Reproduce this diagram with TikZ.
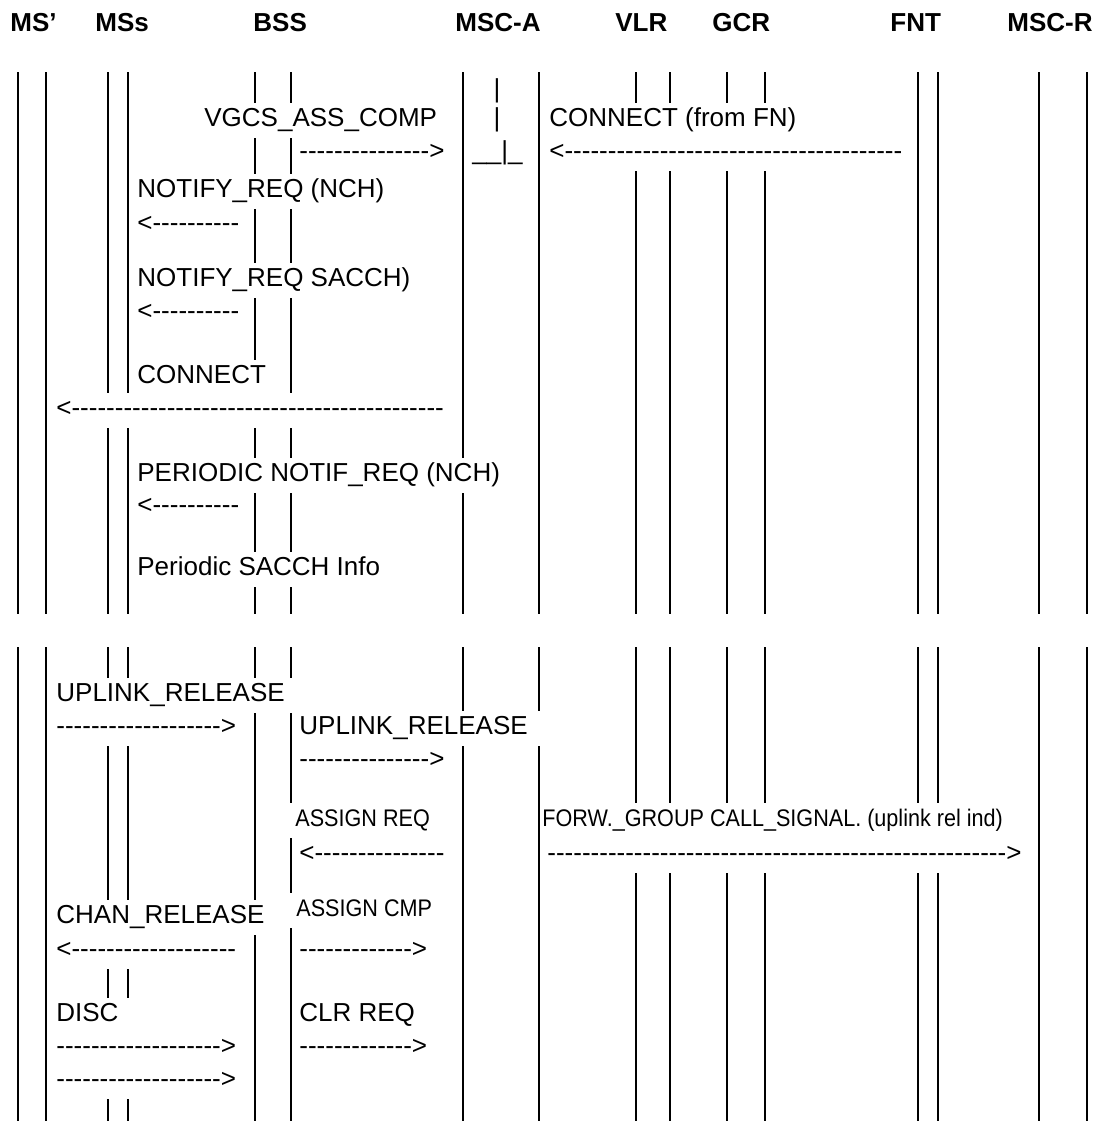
\documentclass[tikz,border=0pt]{standalone}
\usepackage{fontspec}
\setmainfont{Liberation Sans}
\newfontfamily\narrowfont[FakeStretch=0.9]{Liberation Sans}
\usepackage{tikz}

% a row of hyphens for the text arrows
\newcommand{\dashes}[1]{\foreach \d in {1,...,#1}{-}}

\begin{document}
\begin{tikzpicture}[x=0.5pt, y=-0.5pt,
    lifeline/.style={line width=1.2pt},
    head/.style={anchor=west, inner sep=0pt, font=\fontsize{13}{15}\selectfont\bfseries},
    msg/.style={anchor=west, fill=white, inner xsep=0.5pt, inner ysep=0pt,
        minimum height=17.5pt, text height=9.4pt, text depth=2.6pt,
        font=\fontsize{13}{15}\selectfont},
    small/.style={msg, text height=8.6pt, text depth=2.4pt,
        font=\narrowfont\fontsize{12}{14}\selectfont}
]
\useasboundingbox (0,0) rectangle (1097,1121);

% Column heads
\node[head] (hmsp) at (10,23) {MS’};
\node[head] (hmss) at (95,23) {MSs};
\node[head] (hbss) at (253,23) {BSS};
\node[head] (hmsca) at (455,23) {MSC-A};
\node[head] (hvlr) at (615,23) {VLR};
\node[head] (hgcr) at (712,23) {GCR};
\node[head] (hfnt) at (890,23) {FNT};
\node[head] (hmscr) at (1007,23) {MSC-R};

% Lifelines, two parts
\foreach \x in {18,46,108,128,255,291,463,539,636,670,727,765,918,938,1039,1087} {
    \draw[lifeline] (\x,72) -- (\x,614);
    \draw[lifeline] (\x,647) -- (\x,1121);
}

% First part
\node[msg, anchor=center] (bara) at (497,91) {|};
\node[msg] (vgcs) at (203,120) {VGCS\_ASS\_COMP};
\node[msg, anchor=center] (barb) at (497,120) {|};
\node[msg] (connfn) at (548,120) {CONNECT (from FN)};
\node[msg] (vgcsarr) at (298,153) {\dashes{15}>};
\node[msg] (barc) at (471,153) {\_\_|\_};
\node[msg] (connfnarr) at (548,153) {<\dashes{39}};
\node[msg] (notnch) at (136,191) {NOTIFY\_REQ (NCH)};
\node[msg] (notncharr) at (136,225) {<\dashes{10}};
\node[msg] (notsacch) at (136,280) {NOTIFY\_REQ SACCH)};
\node[msg] (notsaccharr) at (136,313) {<\dashes{10}};
\node[msg] (conn) at (136,377) {CONNECT};
\node[msg] (connarr) at (55,410) {<\dashes{43}};
\node[msg] (pernotif) at (136,475) {PERIODIC NOTIF\_REQ (NCH)};
\node[msg] (pernotifarr) at (136,507) {<\dashes{10}};
\node[msg] (persacch) at (136,569) {Periodic SACCH Info};

% Second part
\node[msg] (uplrel) at (55,695) {UPLINK\_RELEASE\kern4pt};
\node[msg] (uplrelarr) at (55,728) {\dashes{19}>};
\node[msg] (uplrelb) at (298,728) {UPLINK\_RELEASE\kern7pt};
\node[msg] (uplrelbarr) at (298,761) {\dashes{15}>};
\node[small] (assreq) at (288,820) {\ ASSIGN REQ};
\node[small] (forw) at (541,820) {FORW.\_GROUP CALL\_SIGNAL. (uplink rel ind)};
\node[msg] (assreqarr) at (298,855) {<\dashes{15}};
\node[msg] (forwarr) at (546,855) {\dashes{53}>};
\node[msg] (chanrel) at (55,917) {CHAN\_RELEASE};
\node[small] (asscmp) at (289,910) {\ ASSIGN CMP};
\node[msg] (chanrelarr) at (55,951) {<\dashes{19}};
\node[msg] (asscmparr) at (298,951) {\dashes{13}>};
\node[msg] (disc) at (55,1015) {DISC\kern6pt};
\node[msg] (clrreq) at (298,1015) {CLR REQ};
\node[msg] (discarr) at (55,1048) {\dashes{19}>};
\node[msg] (clrreqarr) at (298,1048) {\dashes{13}>};
\node[msg] (discarrb) at (55,1081) {\dashes{19}>};

\end{tikzpicture}
\end{document}
